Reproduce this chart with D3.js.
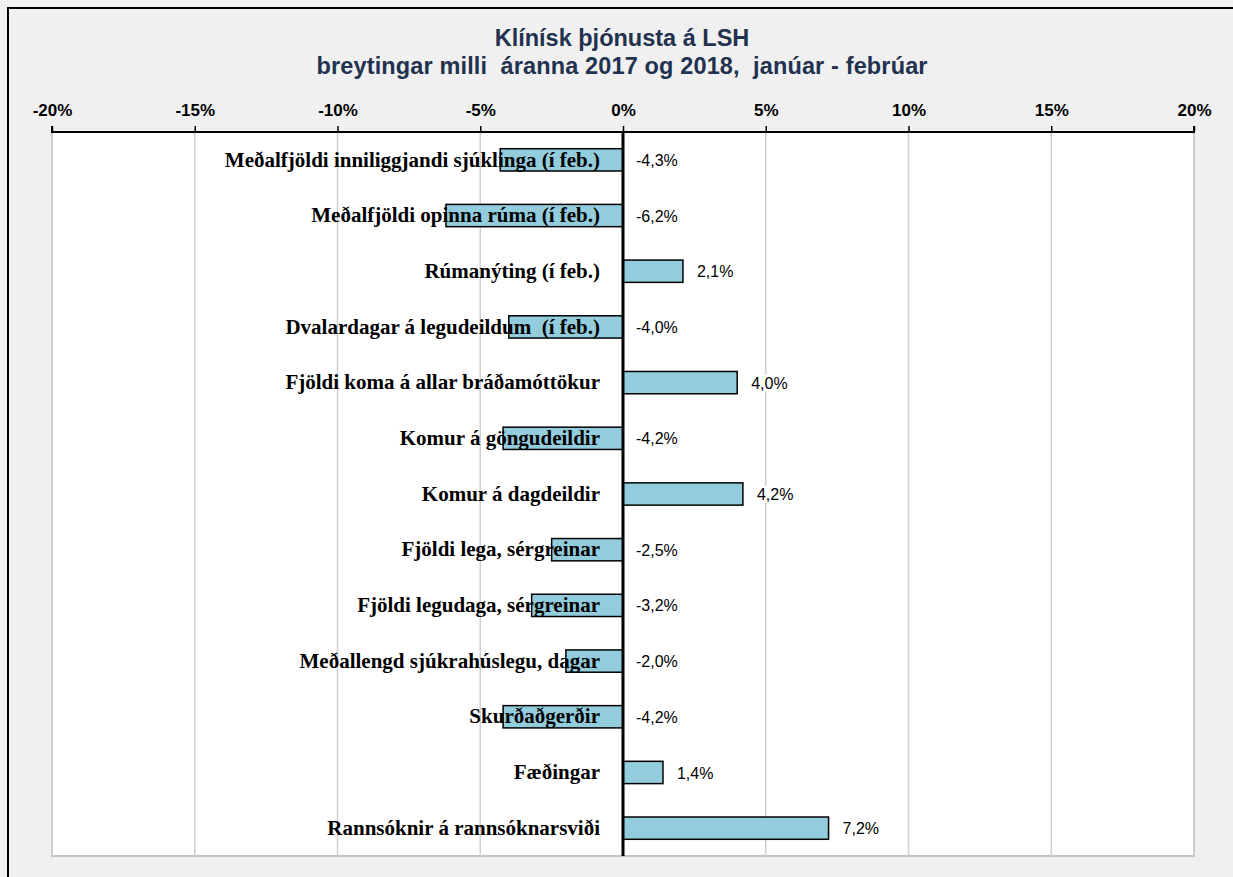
<!DOCTYPE html>
<html>
<head>
<meta charset="utf-8">
<script src="https://cdn.jsdelivr.net/npm/d3@7"></script>
<style>
  body { margin: 0; background: #f0f0f0; }
  svg { display: block; }
</style>
</head>
<body>
<script>
var width = 1233,
    height = 877

// Categories, top to bottom
var categories = [
  "Meðalfjöldi inniliggjandi sjúklinga (í feb.)",
  "Meðalfjöldi opinna rúma (í feb.)",
  "Rúmanýting (í feb.)",
  "Dvalardagar á legudeildum  (í feb.)",
  "Fjöldi koma á allar bráðamóttökur",
  "Komur á göngudeildir",
  "Komur á dagdeildir",
  "Fjöldi lega, sérgreinar",
  "Fjöldi legudaga, sérgreinar",
  "Meðallengd sjúkrahúslegu, dagar",
  "Skurðaðgerðir",
  "Fæðingar",
  "Rannsóknir á rannsóknarsviði"
]

// Change 2017 -> 2018 in percent
var values = [-4.3, -6.2, 2.1, -4.0, 4.0, -4.2, 4.2, -2.5, -3.2, -2.0, -4.2, 1.4, 7.2]

var tickValues = [-20, -15, -10, -5, 0, 5, 10, 15, 20]

var titleLines = [
  "Klínísk þjónusta á LSH",
  "breytingar milli  áranna 2017 og 2018,  janúar - febrúar"
]

var plot = {left: 52, right: 1194, top: 132, bottom: 856}

var x = d3.scaleLinear()
    .domain([-20, 20])
    .range([plot.left, plot.right])

var y = d3.scaleBand()
    .domain(categories)
    .range([plot.top, plot.bottom])
    .paddingInner(0.6)
    .paddingOuter(0.3)

// Icelandic style: comma decimal, plain hyphen for minus
var fmt = function(v) { return (v < 0 ? "-" : "") + d3.format(".1f")(Math.abs(v)).replace(".", ",") + "%" }

var svg = d3.select("body").append("svg")
    .attr("width", width)
    .attr("height", height)

// chart background + outer frame
svg.append("rect")
    .attr("width", width).attr("height", height)
    .attr("fill", "#f0f0f0")

svg.append("path")
    .attr("d", "M8," + height + "V8H" + width)
    .attr("fill", "none")
    .attr("stroke", "#000")
    .attr("stroke-width", 2)

// plot area
svg.append("rect")
    .attr("x", plot.left).attr("y", plot.top)
    .attr("width", plot.right - plot.left).attr("height", plot.bottom - plot.top)
    .attr("fill", "#fff")
    .attr("stroke", "#c4c4c4")
    .attr("stroke-width", 2)

// gridlines
svg.append("g")
    .selectAll("line")
    .data(tickValues.filter(function(d) { return d !== 0 }))
    .enter().append("line")
    .attr("x1", function(d) { return x(d) })
    .attr("x2", function(d) { return x(d) })
    .attr("y1", plot.top)
    .attr("y2", plot.bottom)
    .attr("stroke", "#d0d0d0")
    .attr("stroke-width", 1.5)

// title
svg.append("g")
    .selectAll("text")
    .data(titleLines)
    .enter().append("text")
    .attr("x", 622)
    .attr("y", function(d, i) { return 46 + i * 28 })
    .attr("text-anchor", "middle")
    .attr("textLength", function(d, i) { return i ? 611 : null })
    .attr("lengthAdjust", "spacing")
    .style("white-space", "pre")
    .style("font-family", "Arial, 'Liberation Sans', sans-serif")
    .style("font-weight", "bold")
    .style("font-size", "23.5px")
    .style("fill", "#1f324f")
    .text(function(d) { return d })

// top axis
var axis = d3.axisTop(x)
    .tickValues(tickValues)
    .tickSize(6)
    .tickPadding(10)
    .tickFormat(function(d) { return d + "%" })

var gAxis = svg.append("g")
    .attr("transform", "translate(0," + plot.top + ")")
    .call(axis)

gAxis.select(".domain")
    .attr("d", "M" + plot.left + ",-6V0H" + plot.right + "V-6")
    .attr("stroke", "#000")
    .attr("stroke-width", 2)

gAxis.selectAll(".tick line")
    .attr("stroke", "#000")
    .attr("stroke-width", 1.5)

gAxis.selectAll(".tick text")
    .style("font-family", "Arial, 'Liberation Sans', sans-serif")
    .style("font-weight", "bold")
    .style("font-size", "17px")
    .style("fill", "#000")

// bars
svg.append("g")
    .selectAll("rect")
    .data(values)
    .enter().append("rect")
    .attr("x", function(d) { return x(Math.min(0, d)) })
    .attr("y", function(d, i) { return y(categories[i]) })
    .attr("width", function(d) { return Math.abs(x(d) - x(0)) })
    .attr("height", y.bandwidth())
    .attr("fill", "#93cddd")
    .attr("stroke", "#000")
    .attr("stroke-width", 1.5)

// zero line
svg.append("line")
    .attr("x1", x(0)).attr("x2", x(0))
    .attr("y1", plot.top).attr("y2", plot.bottom)
    .attr("stroke", "#000")
    .attr("stroke-width", 3)

// category labels (drawn over the bars, as in the original)
svg.append("g")
    .selectAll("text")
    .data(categories)
    .enter().append("text")
    .attr("x", 600)
    .attr("y", function(d) { return y(d) + y.bandwidth() / 2 })
    .attr("dy", "0.32em")
    .attr("text-anchor", "end")
    .style("white-space", "pre")
    .style("font-family", "'Times New Roman', 'Liberation Serif', serif")
    .style("font-weight", "bold")
    .style("font-size", "21px")
    .style("fill", "#000")
    .text(function(d) { return d })

// value labels
var vl = svg.append("g")
    .selectAll("g")
    .data(values)
    .enter().append("g")
    .attr("transform", function(d, i) {
      var xx = d < 0 ? x(0) + 13 : x(d) + 14
      return "translate(" + xx + "," + (y(categories[i]) + y.bandwidth() / 2) + ")"
    })

vl.append("text")
    .attr("dy", "0.38em")
    .style("font-family", "Arial, 'Liberation Sans', sans-serif")
    .style("font-size", "16px")
    .style("fill", "#000")
    .text(fmt)

vl.each(function() {
  var g = d3.select(this),
      bb = g.select("text").node().getBBox()
  g.insert("rect", "text")
      .attr("x", bb.x - 1).attr("y", bb.y)
      .attr("width", bb.width + 2).attr("height", bb.height)
      .attr("fill", "#fff")
})
</script>
</body>
</html>
